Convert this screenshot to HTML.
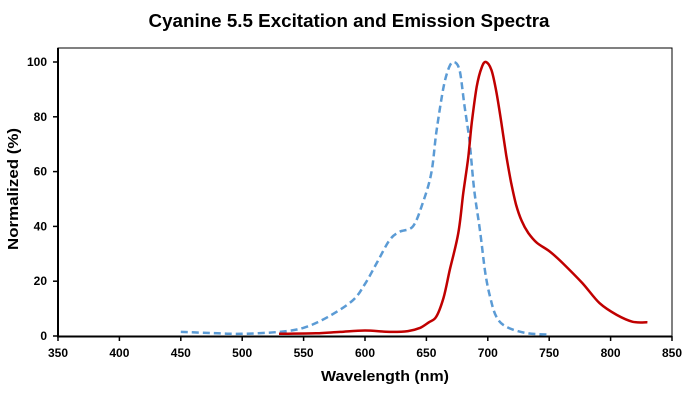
<!DOCTYPE html>
<html><head><meta charset="utf-8"><style>
body{margin:0;background:#fff;}
svg{display:block;font-family:"Liberation Sans",Arial,sans-serif;}
</style></head><body>
<svg id="s" width="697" height="402" viewBox="0 0 697 402">
<text x="349" y="27" text-anchor="middle" font-size="18" font-weight="bold" textLength="401" lengthAdjust="spacingAndGlyphs">Cyanine 5.5 Excitation and Emission Spectra</text>
<rect x="58" y="48" width="614" height="288" fill="none" stroke="#000" stroke-width="1"/>
<line x1="58" y1="48" x2="58" y2="337" stroke="#000" stroke-width="2"/>
<line x1="57" y1="336.5" x2="672" y2="336.5" stroke="#000" stroke-width="2"/>
<g id="ticks" font-size="12" font-weight="bold"></g>
<text x="385" y="381" text-anchor="middle" font-size="15" font-weight="bold" textLength="128" lengthAdjust="spacingAndGlyphs">Wavelength (nm)</text>
<text transform="translate(18,189) rotate(-90)" text-anchor="middle" font-size="15" font-weight="bold" textLength="122" lengthAdjust="spacingAndGlyphs">Normalized (%)</text>
<path id="ex" fill="none" stroke="#5b9bd5" stroke-width="2.5" stroke-dasharray="7,4" stroke-linejoin="round"/>
<path id="em" fill="none" stroke="#c00000" stroke-width="2.5" stroke-linejoin="round"/>
</svg>
<script>
function X(w){return 58+(w-350)*1.228;}
function Y(v){return 336-v*2.74;}
var t=document.getElementById('ticks'),h='';
for(var w=350;w<=850;w+=50){var x=X(w);h+='<line x1="'+x+'" y1="336" x2="'+x+'" y2="341" stroke="#000" stroke-width="1.5"/><text x="'+x+'" y="357" text-anchor="middle">'+w+'</text>';}
for(var v=0;v<=100;v+=20){var y=Y(v);h+='<line x1="53" y1="'+y+'" x2="58" y2="'+y+'" stroke="#000" stroke-width="1.5"/><text x="47" y="'+(y+4)+'" text-anchor="end">'+v+'</text>';}
t.innerHTML=h;
function P(d){
 var pts=d.map(function(p){return [X(p[0]),Y(p[1])];});
 var s='M'+pts[0][0].toFixed(1)+','+pts[0][1].toFixed(1);
 for(var i=0;i<pts.length-1;i++){
  var p0=pts[i-1]||pts[i],p1=pts[i],p2=pts[i+1],p3=pts[i+2]||p2;
  var c1x=p1[0]+(p2[0]-p0[0])/6,c1y=p1[1]+(p2[1]-p0[1])/6,c2x=p2[0]-(p3[0]-p1[0])/6,c2y=p2[1]-(p3[1]-p1[1])/6;
  s+='C'+c1x.toFixed(1)+','+c1y.toFixed(1)+' '+c2x.toFixed(1)+','+c2y.toFixed(1)+' '+p2[0].toFixed(1)+','+p2[1].toFixed(1);
 }
 return s;}
var ex=[[450,1.5],[480,1],[500,0.8],[530,1.5],[550,3],[570,7],[590,13],[600,19],[610,27],[620,35],[628,38],[639,40],[647,48.5],[654,59.5],[658,74],[663.6,90],[668,97.5],[672,100],[677,97],[681,84],[685,71.5],[689,53],[693.6,38.7],[698,23],[702,14],[707,7],[715,3.4],[731,1.1],[750,0.5]];
var em=[[530,0.8],[560,1],[580,1.5],[600,2],[620,1.5],[635,1.8],[645,3],[652,5],[658,7],[664,14],[669,24],[676,37.6],[680,52],[684,65],[687,78],[691,91],[695,98],[698.5,100],[703,97],[707,89],[711,78],[715,66],[719,56],[723,48],[727.6,42],[733,37.6],[740,34],[750.6,30.8],[761,26.6],[777,19.3],[791,12],[805,7.7],[818,5.2],[830,5]];
document.getElementById('ex').setAttribute('d',P(ex));
document.getElementById('em').setAttribute('d',P(em));
</script>
</body></html>
